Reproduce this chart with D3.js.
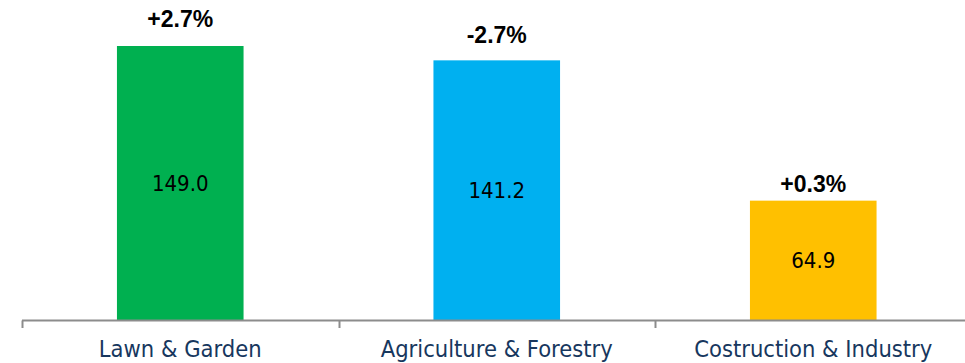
<!DOCTYPE html>
<html>
<head>
<meta charset="utf-8">
<script src="https://cdn.jsdelivr.net/npm/d3@7"></script>
<style>
  html, body { margin: 0; padding: 0; background: #fff; }
  svg { display: block; }
  .cond { font-family: 'DejaVu Sans Condensed', 'DejaVu Sans', Verdana, sans-serif; font-stretch: condensed; }
</style>
</head>
<body>
<svg id="chart" width="965" height="363"></svg>
<script>
// Segment sales and year-over-year change
const categories = ["Lawn & Garden", "Agriculture & Forestry", "Costruction & Industry"];
const values = [149.0, 141.2, 64.9];
const changes = ["+2.7%", "-2.7%", "+0.3%"];
const colors = ["#00B050", "#00B0F0", "#FFC000"];

// Gap between each change label and the top of its bar
const changeLabelGap = [19, 17, 9];

const svg = d3.select("#chart");
const axisY = 320;

// Category bands: the axis spans full bands, bars take the middle 40%
const xAxisBand = d3.scaleBand().domain(categories).range([22, 971.5]).padding(0);
const x = d3.scaleBand().domain(categories).range([22, 971.5])
  .paddingInner(0.6).paddingOuter(0.3);

const y = d3.scaleLinear().domain([0, 149]).range([axisY, 46]);

// Bars
svg.append("g").selectAll("rect")
  .data(values)
  .join("rect")
  .attr("x", (d, i) => x(categories[i]))
  .attr("y", d => y(d))
  .attr("width", x.bandwidth())
  .attr("height", d => y(0) - y(d))
  .attr("fill", (d, i) => colors[i]);

// Values inside the bars
svg.append("g").selectAll("text")
  .data(values)
  .join("text")
  .attr("class", "cond")
  .attr("x", (d, i) => x(categories[i]) + x.bandwidth() / 2)
  .attr("y", d => (y(d) + y(0)) / 2)
  .attr("dy", "0.36em")
  .attr("text-anchor", "middle")
  .attr("font-size", 22)
  .attr("fill", "#000")
  .text(d => d.toFixed(1));

// Change labels above the bars
svg.append("g").selectAll("text")
  .data(changes)
  .join("text")
  .attr("x", (d, i) => x(categories[i]) + x.bandwidth() / 2)
  .attr("y", (d, i) => y(values[i]) - changeLabelGap[i])
  .attr("text-anchor", "middle")
  .attr("font-family", "'Liberation Sans', Arial, sans-serif")
  .attr("font-weight", "bold")
  .attr("font-size", 23)
  .attr("fill", "#000")
  .text(d => d);

// Category axis
const axis = d3.axisBottom(xAxisBand).tickSize(0).tickFormat("");
const gAxis = svg.append("g").attr("transform", `translate(0,${axisY + 0.5})`).call(axis);
gAxis.select(".domain").attr("stroke", "#8C8C8C").attr("stroke-width", 2).attr("d",
  `M${xAxisBand.range()[0]},0H${xAxisBand.range()[1]}`);

// Tick marks at band boundaries
const boundaries = categories.map(c => xAxisBand(c)).concat([xAxisBand.range()[1]]);
gAxis.selectAll(".bound")
  .data(boundaries)
  .join("line")
  .attr("class", "bound")
  .attr("x1", d => Math.round(d) + 0.5)
  .attr("x2", d => Math.round(d) + 0.5)
  .attr("y1", 0)
  .attr("y2", 7.5)
  .attr("stroke", "#8C8C8C")
  .attr("stroke-width", 2);

// Category labels
svg.append("g").selectAll("text")
  .data(categories)
  .join("text")
  .attr("class", "cond")
  .attr("x", d => xAxisBand(d) + xAxisBand.bandwidth() / 2)
  .attr("y", 357)
  .attr("text-anchor", "middle")
  .attr("font-size", 23.5)
  .attr("fill", "#17375E")
  .text(d => d);
</script>
</body>
</html>
